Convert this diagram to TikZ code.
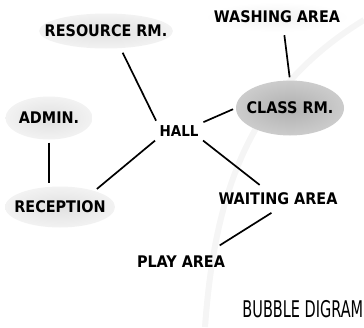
\documentclass[tikz,border=0pt]{standalone}
\usepackage{fontspec}
\setmainfont{DejaVu Sans Condensed}
\usetikzlibrary{positioning, shapes.geometric}

\begin{document}
\begin{tikzpicture}[x=1pt, y=-1pt, font=\fontsize{16}{18}\selectfont\bfseries]
	\tikzset{
		bubble/.style={ellipse, inner xsep=-14pt, inner ysep=3pt, shading=radial, inner color=gray!24, outer color=gray!10},
		darkbubble/.style={bubble, inner color=gray!62, outer color=gray!40},
		plain/.style={inner sep=2pt},
		link/.style={line width=1.7pt, shorten <=3pt, shorten >=3pt}
	}
	\useasboundingbox (0,0) rectangle (364,327);
	\draw[gray!8, line width=6pt] (205,327) .. controls (215,190) and (250,90) .. (364,20);
	\node (res) [bubble, minimum width=132pt, minimum height=35pt] at (106,31) {RESOURCE RM.};
	\node (wash) [bubble, inner color=gray!10, outer color=white, minimum width=144pt, minimum height=30pt] at (277,17) {WASHING AREA};
	\node (class) [darkbubble, minimum width=108pt, minimum height=55pt] at (290,108) {CLASS RM.};
	\node (admin) [bubble, minimum width=87pt, minimum height=43pt] at (49,118) {ADMIN.};
	\node (hall) [plain, font=\fontsize{15}{17}\selectfont\bfseries] at (179,131) {HALL};
	\node (rec) [bubble, minimum width=110pt, minimum height=41pt] at (60,207) {RECEPTION};
	\node (wait) [plain, inner sep=6pt] at (278,199) {WAITING AREA};
	\node (play) [plain] at (181,262) {PLAY AREA};
	\node (title) [anchor=west, xscale=0.7, transform shape, font=\fontsize{23}{26}\selectfont] at (240,309) {BUBBLE DIGRAM};
	\draw[link, shorten <=5pt] (res.-50) -- (hall.north west);
	\draw[link] ([xshift=7pt]wash.south) -- (class.north);
	\draw[link] (hall.north east) -- (class.west);
	\draw[link] (admin.south) -- (admin.south |- rec.north);
	\draw[link] (hall.south west) -- (rec.25);
	\draw[link] (hall.south east) -- ([xshift=-16pt]wait.north);
	\draw[link] ([xshift=-4pt]wait.south) -- ([xshift=-10pt, yshift=7pt]play.north east);
\end{tikzpicture}
\end{document}
